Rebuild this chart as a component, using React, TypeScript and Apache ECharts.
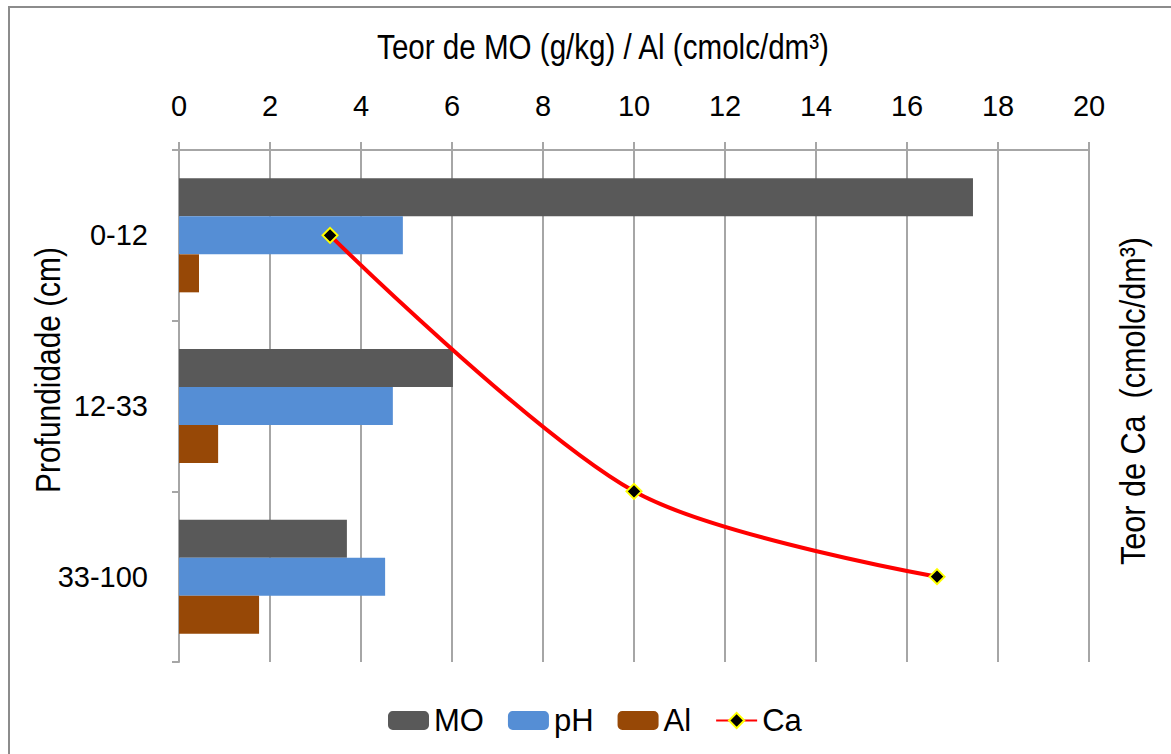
import React, { useEffect, useRef } from "react";
import * as echarts from "echarts";

const categories = ["0-12", "12-33", "33-100"];
const moValues = [17.45, 6.02, 3.69];
const phValues = [4.92, 4.7, 4.53];
const alValues = [0.44, 0.86, 1.76];
const caValues = [3.32, 10.0, 16.66];
const caDepth = [0.5, 2.0, 2.5];
const xTicks = { min: 0, max: 20, interval: 2 };

const FONT = "'Liberation Sans', Arial, sans-serif";
const GRID_GRAY = "#A6A6A6";

export default function App() {
  const ref = useRef<HTMLDivElement>(null);
  useEffect(() => {
    if (!ref.current) return;
    const chart = echarts.init(ref.current, undefined, { renderer: "svg" });
    const caData = caValues.map((v, i) => [v, caDepth[i]]);
    chart.setOption({
      animation: false,
      backgroundColor: "#ffffff",
      textStyle: { fontFamily: FONT },
      grid: { left: 179, right: 82, top: 150, bottom: 92 },
      legend: {
        left: 383,
        top: 700,
        itemWidth: 41,
        itemHeight: 19,
        itemGap: 24,
        textStyle: { fontSize: 31, color: "#000", fontFamily: FONT },
        data: ["MO", "pH", "Al", "Ca"],
      },
      xAxis: {
        type: "value",
        position: "top",
        min: xTicks.min,
        max: xTicks.max,
        interval: xTicks.interval,
        axisLine: { show: true, lineStyle: { color: GRID_GRAY, width: 2 } },
        axisTick: { show: true, length: 8, lineStyle: { color: GRID_GRAY, width: 2 } },
        axisLabel: { fontSize: 29, color: "#000", margin: 30, fontFamily: FONT },
        splitLine: { show: true, lineStyle: { color: GRID_GRAY, width: 2 } },
      },
      yAxis: [
        {
          type: "category",
          data: categories,
          inverse: true,
          axisLine: { show: true, lineStyle: { color: GRID_GRAY, width: 2 } },
          axisTick: { show: true, length: 7, lineStyle: { color: GRID_GRAY, width: 2 } },
          axisLabel: { fontSize: 29, color: "#000", margin: 31, fontFamily: FONT },
        },
        {
          type: "value",
          show: false,
          min: 0,
          max: 3,
          inverse: true,
          splitLine: { show: false },
        },
      ],
      series: [
        {
          name: "MO",
          type: "bar",
          data: moValues,
          barWidth: 38,
          barGap: "0%",
          itemStyle: { color: "#595959" },
        },
        {
          name: "pH",
          type: "bar",
          data: phValues,
          barWidth: 38,
          barGap: "0%",
          itemStyle: { color: "#558ED5" },
        },
        {
          name: "Al",
          type: "bar",
          data: alValues,
          barWidth: 38,
          barGap: "0%",
          itemStyle: { color: "#974806" },
        },
        {
          name: "Ca",
          type: "line",
          yAxisIndex: 1,
          data: caData,
          smooth: 0.3,
          symbol: "diamond",
          symbolSize: 15,
          lineStyle: { color: "#FF0000", width: 4 },
          itemStyle: { color: "#000000", borderColor: "#FFFF00", borderWidth: 2 },
          z: 5,
        },
      ],
      graphic: [
        {
          type: "rect",
          shape: { x: 9, y: 7, width: 1300, height: 900 },
          style: { fill: "none", stroke: "#8C8C8C", lineWidth: 2 },
          silent: true,
        },
        {
          type: "text",
          x: 603,
          y: 47,
          scaleX: 0.845,
          style: {
            text: "Teor de MO (g/kg) / Al (cmolc/dm³)",
            fontSize: 35,
            fontFamily: FONT,
            fill: "#000",
            align: "center",
            verticalAlign: "middle",
          },
        },
        {
          type: "text",
          x: 47,
          y: 370,
          rotation: Math.PI / 2,
          scaleX: 0.83,
          style: {
            text: "Profundidade (cm)",
            fontSize: 36,
            fontFamily: FONT,
            fill: "#000",
            align: "center",
            verticalAlign: "middle",
          },
        },
        {
          type: "text",
          x: 1133,
          y: 401,
          rotation: Math.PI / 2,
          scaleX: 0.85,
          style: {
            text: "Teor de Ca  (cmolc/dm³)",
            fontSize: 36,
            fontFamily: FONT,
            fill: "#000",
            align: "center",
            verticalAlign: "middle",
          },
        },
      ],
    });
    return () => chart.dispose();
  }, []);
  return (
    <div
      ref={ref}
      style={{ position: "fixed", left: 0, top: 0, width: 1171, height: 754 }}
    />
  );
}
